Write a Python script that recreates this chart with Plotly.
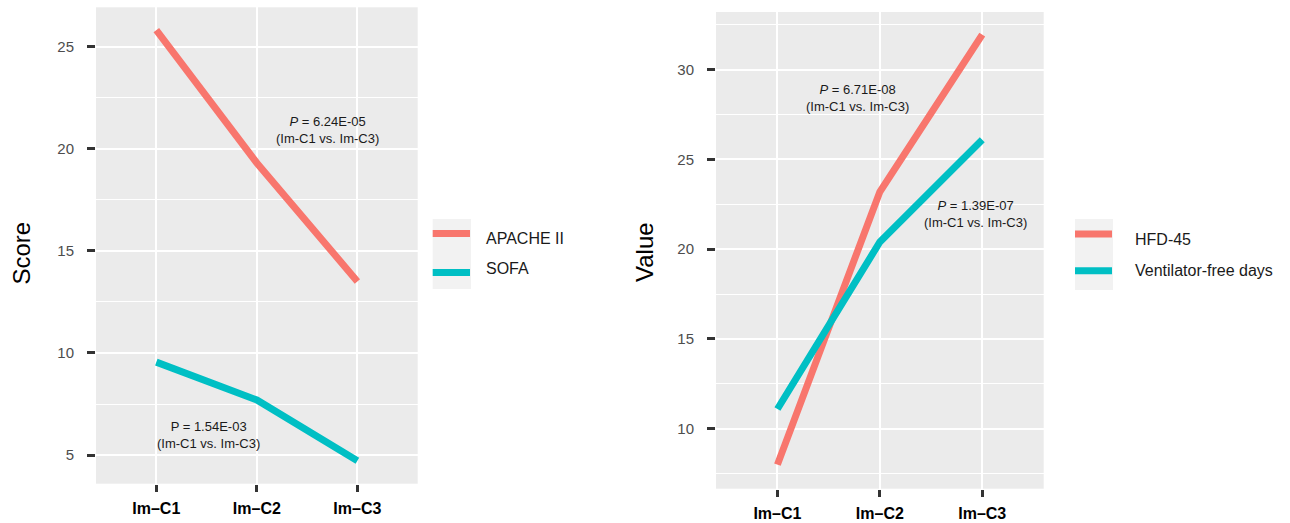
import plotly.graph_objects as go

# ---------------- data ----------------
categories = ["Im–C1", "Im–C2", "Im–C3"]

apache_ii = [25.8, 19.3, 13.5]
sofa = [9.55, 7.7, 4.72]

hfd_45 = [8.0, 23.2, 31.95]
ventilator_free_days = [11.1, 20.4, 26.1]

left_yticks = [5, 10, 15, 20, 25]
right_yticks = [10, 15, 20, 25, 30]

left_pvals = ["<i>P</i> = 6.24E-05<br>(Im-C1 vs. Im-C3)", "P = 1.54E-03<br>(Im-C1 vs. Im-C3)"]
right_pvals = ["<i>P</i> = 6.71E-08<br>(Im-C1 vs. Im-C3)", "<i>P</i> = 1.39E-07<br>(Im-C1 vs. Im-C3)"]

left_names = ["APACHE II", "SOFA"]
right_names = ["HFD-45", "Ventilator-free days"]

# ---------------- style ----------------
RED = "#F8766D"
TEAL = "#00BFC4"
FONT = "Liberation Sans, Arial, sans-serif"
W, H = 1290, 523

fig = go.Figure()

fig.add_trace(go.Scatter(x=categories, y=apache_ii, mode="lines", line=dict(color=RED, width=7),
                         xaxis="x", yaxis="y", showlegend=False))
fig.add_trace(go.Scatter(x=categories, y=sofa, mode="lines", line=dict(color=TEAL, width=7),
                         xaxis="x", yaxis="y", showlegend=False))
fig.add_trace(go.Scatter(x=categories, y=hfd_45, mode="lines", line=dict(color=RED, width=7),
                         xaxis="x2", yaxis="y2", showlegend=False))
fig.add_trace(go.Scatter(x=categories, y=ventilator_free_days, mode="lines", line=dict(color=TEAL, width=7),
                         xaxis="x2", yaxis="y2", showlegend=False))


def xaxis_style(domain, anchor):
    return dict(
        domain=domain, anchor=anchor, type="category", range=[-0.6, 2.6],
        showgrid=True, gridcolor="white", gridwidth=2,
        ticks="outside", ticklen=7, tickwidth=2.5, tickcolor="#333333",
        tickfont=dict(family=FONT, size=16, color="#000000", weight="bold"),
        ticklabelstandoff=3, zeroline=False, showline=False, fixedrange=True,
    )


def yaxis_style(domain, anchor, rng, tickvals):
    return dict(
        domain=domain, anchor=anchor, range=rng, tickvals=tickvals,
        showgrid=True, gridcolor="white", gridwidth=2,
        minor=dict(dtick=2.5, tick0=0, showgrid=True, gridcolor="white", gridwidth=1, ticks=""),
        ticks="outside", ticklen=8, tickwidth=2.5, tickcolor="#333333",
        tickfont=dict(family=FONT, size=15, color="#4D4D4D"),
        ticklabelstandoff=10, zeroline=False, showline=False, fixedrange=True,
    )


LX = [96 / W, 417.7 / W]
LY = [1 - 483.7 / H, 1 - 7.3 / H]
RX = [716 / W, 1043.7 / W]
RY = [1 - 488.7 / H, 1 - 12 / H]

fig.update_layout(
    width=W, height=H, autosize=False,
    margin=dict(l=0, r=0, t=0, b=0),
    paper_bgcolor="white", plot_bgcolor="#EBEBEB",
    font=dict(family=FONT),
    xaxis=xaxis_style(LX, "y"),
    yaxis=yaxis_style(LY, "x", [3.6, 26.92], left_yticks),
    xaxis2=xaxis_style(RX, "y2"),
    yaxis2=yaxis_style(RY, "x2", [6.66, 33.21], right_yticks),
    showlegend=False,
)

ann_font = dict(family=FONT, size=13, color="#1A1A1A")
annotations = [
    dict(x=1.70, y=20.9, xref="x", yref="y", text=left_pvals[0], showarrow=False, font=ann_font, align="center"),
    dict(x=0.52, y=6.0, xref="x", yref="y", text=left_pvals[1], showarrow=False, font=ann_font, align="center"),
    dict(x=0.78, y=28.41, xref="x2", yref="y2", text=right_pvals[0], showarrow=False, font=ann_font, align="center"),
    dict(x=1.93, y=21.97, xref="x2", yref="y2", text=right_pvals[1], showarrow=False, font=ann_font, align="center"),
    # axis titles
    dict(x=21.5 / W, y=1 - 253 / H, xref="paper", yref="paper", text="Score", textangle=-90, showarrow=False,
         font=dict(family=FONT, size=24, color="#000000"), xanchor="center", yanchor="middle"),
    dict(x=645 / W, y=1 - 252 / H, xref="paper", yref="paper", text="Value", textangle=-90, showarrow=False,
         font=dict(family=FONT, size=24, color="#000000"), xanchor="center", yanchor="middle"),
]

# ---------------- manual ggplot-style legends ----------------
shapes = []
leg_font = dict(family=FONT, size=16, color="#1A1A1A")


def add_legend(box_x0, box_x1, box_y0, box_y1, key_ys, text_x, text_ys, names):
    shapes.append(dict(type="rect", xref="paper", yref="paper",
                       x0=box_x0 / W, x1=box_x1 / W, y0=1 - box_y1 / H, y1=1 - box_y0 / H,
                       fillcolor="#F2F2F2", line=dict(width=0), layer="below"))
    for ky, col in zip(key_ys, [RED, TEAL]):
        shapes.append(dict(type="line", xref="paper", yref="paper",
                           x0=box_x0 / W, x1=(box_x1 - 1) / W, y0=1 - ky / H, y1=1 - ky / H,
                           line=dict(color=col, width=7)))
    for ty, name in zip(text_ys, names):
        annotations.append(dict(x=text_x / W, y=1 - ty / H, xref="paper", yref="paper", text=name,
                                showarrow=False, xanchor="left", yanchor="middle", font=leg_font))


add_legend(432.7, 471, 219, 289, [233.5, 272.5], 484, [238.5, 268.5], left_names)
add_legend(1075, 1113, 219, 290, [234, 270.7], 1133.3, [240, 270.5], right_names)

fig.update_layout(annotations=annotations, shapes=shapes)

fig.write_html("out.html")
